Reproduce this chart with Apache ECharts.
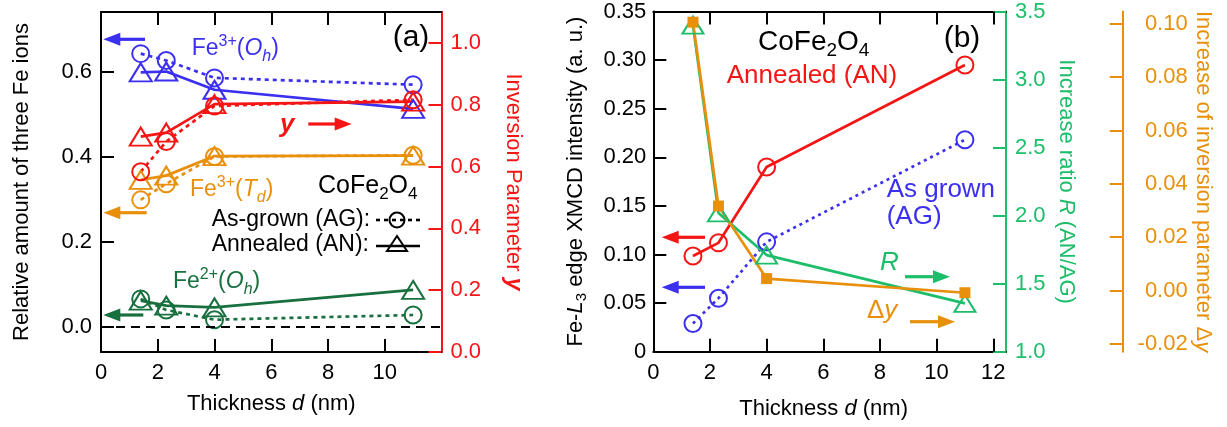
<!DOCTYPE html>
<html><head><meta charset="utf-8">
<script src="https://cdn.jsdelivr.net/npm/echarts@6/dist/echarts.min.js"></script>
<style>html,body{margin:0;padding:0;background:#fff}#c{width:1227px;height:427px}</style>
</head><body><div id="c"></div>
<script>
// ---------- data ----------
const thicknessA = [1.4, 2.3, 4, 11];
const fe3OhAG = [0.642, 0.626, 0.585, 0.569];
const fe3OhAN = [0.598, 0.600, 0.557, 0.512];
const fe3TdAG = [0.298, 0.336, 0.400, 0.403];
const fe3TdAN = [0.345, 0.355, 0.401, 0.402];
const fe2OhAG = [0.065, 0.039, 0.016, 0.027];
const fe2OhAN = [0.061, 0.049, 0.045, 0.086];
const invYAG = [0.583, 0.681, 0.796, 0.816];
const invYAN = [0.697, 0.710, 0.802, 0.810];

const thicknessB = [1.4, 2.3, 4, 11];
const xmcdAN = [0.0985, 0.112, 0.190, 0.295];
const xmcdAG = [0.029, 0.055, 0.113, 0.218];
const ratioR = [3.40, 2.02, 1.71, 1.355];
const deltaY = [0.1006, 0.0317, 0.0045, -0.0008];

const xLabelsA = [0, 2, 4, 6, 8, 10];
const xTicksA = [2, 4, 6, 8, 10];
const xLabelsB = [0, 2, 4, 6, 8, 10, 12];
const xTicksB = [2, 4, 6, 8, 10, 12];
const leftTicksA = [0, 0.2, 0.4, 0.6];
const rightTicksA = [0, 0.2, 0.4, 0.6, 0.8, 1.0];
const leftTicksB = [0, 0.05, 0.10, 0.15, 0.20, 0.25, 0.30, 0.35];
const rTicks = [1.0, 1.5, 2.0, 2.5, 3.0, 3.5];
const dyTicks = [-0.02, 0, 0.02, 0.04, 0.06, 0.08, 0.10];

// ---------- styles ----------
const FONT = '"Liberation Sans", Arial, Helvetica, sans-serif';
const BLUE = '#3b2ff0', RED = '#f51515', ORANGE = '#e8900c', DGREEN = '#18703f', GREEN = '#1dbd6a', BLACK = '#000';

const pts = (xs, ys) => xs.map((x, i) => [x, ys[i]]);

function ser(xi, yi, xs, ys, color, dashed, symbol, size) {
  const filled = symbol === 'rect';
  return {
    type: 'line', xAxisIndex: xi, yAxisIndex: yi, data: pts(xs, ys),
    symbol: symbol, symbolSize: size, showSymbol: true, silent: true,
    lineStyle: { color: color, width: 2.7, type: dashed ? [4, 4] : 'solid' },
    itemStyle: { color: filled ? color : 'rgba(0,0,0,0)', borderColor: color, borderWidth: filled ? 0 : 2 },
    emphasis: { disabled: true }, z: 3
  };
}

function yAx(grid, pos, min, max, color, ticks, fmt, extra) {
  return Object.assign({
    type: 'value', gridIndex: grid, position: pos, min: min, max: max,
    axisLine: { show: true, onZero: false, lineStyle: { color: color, width: 2 } },
    axisTick: { show: true, inside: true, length: 13, lineStyle: { color: color, width: 2 }, customValues: ticks },
    axisLabel: { show: true, color: color, fontSize: 22, fontFamily: FONT, margin: 9, customValues: ticks, formatter: fmt },
    splitLine: { show: false }
  }, extra || {});
}

function xAx(grid, pos, max, ticks, labels, extra) {
  return Object.assign({
    type: 'value', gridIndex: grid, position: pos, min: 0, max: max,
    axisLine: { show: true, onZero: false, lineStyle: { color: BLACK, width: 2 } },
    axisTick: { show: true, inside: true, length: 13, lineStyle: { color: BLACK, width: 2 }, customValues: ticks },
    axisLabel: labels ? { show: true, color: BLACK, fontSize: 22, fontFamily: FONT, margin: 10, customValues: labels } : { show: false },
    splitLine: { show: false }
  }, extra || {});
}

const italic = (size, color) => ({ fontStyle: 'italic', fontSize: size, color: color, fontFamily: FONT });

function arrow(x1, y1, x2, y2, color) {
  const dx = x2 - x1, dy = y2 - y1, L = Math.hypot(dx, dy), ux = dx / L, uy = dy / L;
  const hl = 17, hw = 6.5;
  const bx = x2 - ux * hl, by = y2 - uy * hl;
  return [
    { type: 'line', silent: true, shape: { x1: x1, y1: y1, x2: bx + ux * 2, y2: by + uy * 2 }, style: { stroke: color, lineWidth: 3.2 } },
    { type: 'polygon', silent: true, shape: { points: [[x2, y2], [bx - uy * hw, by + ux * hw], [bx + uy * hw, by - ux * hw]] }, style: { fill: color } }
  ];
}

function rtext(x, y, text, color, size, rich, align) {
  const r = {};
  const base = { fontSize: size, fill: color, fontFamily: FONT, lineHeight: size + 8 };
  r.m = Object.assign({}, base);
  r.i = Object.assign({}, base, { fontStyle: 'italic' });
  r.b = Object.assign({}, base, { fontStyle: 'italic', fontWeight: 'bold' });
  r.sup = { fontSize: Math.round(size * 0.68), fill: color, fontFamily: FONT, verticalAlign: 'top' };
  r.sub = { fontSize: Math.round(size * 0.68), fill: color, fontFamily: FONT, verticalAlign: 'bottom' };
  r.isub = Object.assign({}, r.sub, { fontStyle: 'italic' });
  return {
    type: 'text', silent: true, x: x, y: y,
    style: { text: text, rich: Object.assign(r, rich || {}), fill: color, fontSize: size, fontFamily: FONT,
      align: align || 'left', verticalAlign: 'middle' }
  };
}

const graphics = [].concat(
  // panel a annotations
  arrow(145, 39.3, 103.3, 39.3, BLUE),
  arrow(146.7, 212.7, 103.3, 212.7, ORANGE),
  arrow(143.3, 315, 103.3, 315, DGREEN),
  arrow(308.3, 124, 351.7, 124, RED),
  [
    rtext(411, 38, '{m|(a)}', BLACK, 30, null, 'center'),
    rtext(191.7, 49, '{m|Fe}{sup|3+}{m|(}{i|O}{isub|h}{m|)}', BLUE, 23),
    rtext(280, 125, '{b|y}', RED, 26),
    rtext(190, 190, '{m|Fe}{sup|3+}{m|(}{i|T}{isub|d}{m|)}', ORANGE, 23),
    rtext(318, 186, '{m|CoFe}{sub|2}{m|O}{sub|4}', BLACK, 25),
    rtext(211.7, 220, '{m|As-grown (AG):}', BLACK, 23),
    rtext(211.7, 245, '{m|Annealed (AN):}', BLACK, 23),
    rtext(173, 282, '{m|Fe}{sup|2+}{m|(}{i|O}{isub|h}{m|)}', DGREEN, 23),
    { type: 'line', silent: true, shape: { x1: 376, y1: 220, x2: 420, y2: 220 }, style: { stroke: BLACK, lineWidth: 2.6, lineDash: [4, 4] } },
    { type: 'circle', silent: true, shape: { cx: 397, cy: 220, r: 7.5 }, style: { fill: null, stroke: BLACK, lineWidth: 2 } },
    { type: 'line', silent: true, shape: { x1: 376, y1: 246, x2: 420, y2: 246 }, style: { stroke: BLACK, lineWidth: 2.6 } },
    { type: 'polygon', silent: true, shape: { points: [[397, 236], [387, 251], [407, 251]] }, style: { fill: null, stroke: BLACK, lineWidth: 2 } }
  ],
  // panel b annotations
  arrow(705, 237.3, 661.7, 237.3, RED),
  arrow(705, 287.3, 661.7, 287.3, BLUE),
  arrow(905, 276.7, 950, 276.7, GREEN),
  arrow(910, 321.7, 955, 321.7, ORANGE),
  [
    rtext(758, 42, '{m|CoFe}{sub|2}{m|O}{sub|4}', BLACK, 28),
    rtext(962, 39, '{m|(b)}', BLACK, 30, null, 'center'),
    rtext(726.7, 76, '{m|Annealed (AN)}', RED, 26),
    rtext(886.7, 190, '{m|As grown}', BLUE, 26),
    rtext(886.7, 217, '{m|(AG)}', BLUE, 26),
    rtext(880, 263, '{i|R}', GREEN, 26),
    rtext(867, 311, '{m|Δ}{i|y}', ORANGE, 26)
  ]
);

const option = {
  animation: false,
  backgroundColor: '#fff',
  textStyle: { fontFamily: FONT },
  grid: [
    { left: 101, top: 12, width: 340.5, height: 340, containLabel: false },
    { left: 653.3, top: 11.5, width: 352.7, height: 340.2, containLabel: false }
  ],
  xAxis: [
    xAx(0, 'bottom', 12, xTicksA, xLabelsA, {
      name: 'Thickness {i|d} (nm)', nameLocation: 'middle', nameGap: 41,
      nameTextStyle: { fontSize: 22, color: BLACK, fontFamily: FONT, rich: { i: italic(22, BLACK) } }
    }),
    xAx(0, 'top', 12, xTicksA, null),
    xAx(1, 'bottom', 12.45, xTicksB, xLabelsB, {
      name: 'Thickness {i|d} (nm)', nameLocation: 'middle', nameGap: 46,
      nameTextStyle: { fontSize: 22, color: BLACK, fontFamily: FONT, padding: [0, 12, 0, 0], rich: { i: italic(22, BLACK) } }
    }),
    xAx(1, 'top', 12.45, xTicksB, null)
  ],
  yAxis: [
    yAx(0, 'left', -0.06, 0.74, BLACK, leftTicksA, v => v.toFixed(1), {
      name: 'Relative amount of three Fe ions', nameLocation: 'middle', nameGap: 68,
      nameTextStyle: { fontSize: 22, color: BLACK, fontFamily: FONT }
    }),
    yAx(0, 'right', 0, 1.1, RED, rightTicksA, v => v.toFixed(1), {
      name: 'Inversion Parameter {b|y}', nameLocation: 'middle', nameGap: 60, nameRotate: -90,
      nameTextStyle: { fontSize: 22, color: RED, fontFamily: FONT, rich: { b: { fontStyle: 'italic', fontWeight: 'bold', fontSize: 23, color: RED, fontFamily: FONT } } }
    }),
    yAx(1, 'left', 0, 0.35, BLACK, leftTicksB, v => (Math.abs(v) < 1e-9 ? '0' : v.toFixed(2)), {
      axisLabel: { show: true, color: BLACK, fontSize: 22, fontFamily: FONT, margin: 7, customValues: leftTicksB, formatter: v => (Math.abs(v) < 1e-9 ? '0' : v.toFixed(2)) },
      name: 'Fe-{i|L}{s|3} edge XMCD intensity (a. u.)', nameLocation: 'middle', nameGap: 64,
      nameTextStyle: { fontSize: 22, color: BLACK, fontFamily: FONT, rich: {
        i: italic(22, BLACK),
        s: { fontSize: 15, color: BLACK, fontFamily: FONT, verticalAlign: 'bottom', lineHeight: 26 }
      } }
    }),
    yAx(1, 'right', 1.0, 3.5, GREEN, rTicks, v => v.toFixed(1), {
      name: 'Increase ratio {i|R} (AN/AG)', nameLocation: 'middle', nameGap: 49, nameRotate: -90,
      nameTextStyle: { fontSize: 22, color: GREEN, fontFamily: FONT, rich: { i: italic(22, GREEN) } }
    }),
    yAx(1, 'right', -0.0229, 0.1046, ORANGE, dyTicks, v => v.toFixed(2), {
      offset: 116.7,
      axisLabel: { show: true, color: ORANGE, fontSize: 22, fontFamily: FONT, margin: 65, align: 'right', customValues: dyTicks, formatter: v => v.toFixed(2) },
      name: 'Increase of inversion parameter Δ{i|y}', nameLocation: 'middle', nameGap: 66, nameRotate: -90,
      nameTextStyle: { fontSize: 22, color: ORANGE, fontFamily: FONT, rich: { i: italic(22, ORANGE) } }
    })
  ],
  series: [
    // zero reference line, panel a
    {
      type: 'line', xAxisIndex: 0, yAxisIndex: 0, data: [], silent: true,
      markLine: { silent: true, symbol: 'none', label: { show: false },
        lineStyle: { color: BLACK, type: [9, 6], width: 2 }, data: [{ yAxis: 0 }] }
    },
    ser(0, 0, thicknessA, fe3OhAN, BLUE, false, 'triangle', [22, 18]),
    ser(0, 0, thicknessA, fe3OhAG, BLUE, true, 'circle', 17),
    ser(0, 0, thicknessA, fe3TdAN, ORANGE, false, 'triangle', [22, 18]),
    ser(0, 0, thicknessA, fe3TdAG, ORANGE, true, 'circle', 17),
    ser(0, 0, thicknessA, fe2OhAN, DGREEN, false, 'triangle', [22, 18]),
    ser(0, 0, thicknessA, fe2OhAG, DGREEN, true, 'circle', 17),
    ser(0, 1, thicknessA, invYAN, RED, false, 'triangle', [22, 18]),
    ser(0, 1, thicknessA, invYAG, RED, true, 'circle', 17),
    // panel b
    ser(2, 2, thicknessB, xmcdAN, RED, false, 'circle', 17),
    Object.assign(ser(2, 2, thicknessB, xmcdAG, BLUE, true, 'circle', 17), { lineStyle: { color: BLUE, width: 2.7, type: [3, 4] } }),
    ser(2, 3, thicknessB, ratioR, GREEN, false, 'triangle', [21, 17]),
    ser(2, 4, thicknessB, deltaY, ORANGE, false, 'rect', 11)
  ],
  graphic: graphics
};

const chart = echarts.init(document.getElementById('c'), null, { renderer: 'canvas' });
chart.setOption(option);
</script>
</body></html>
